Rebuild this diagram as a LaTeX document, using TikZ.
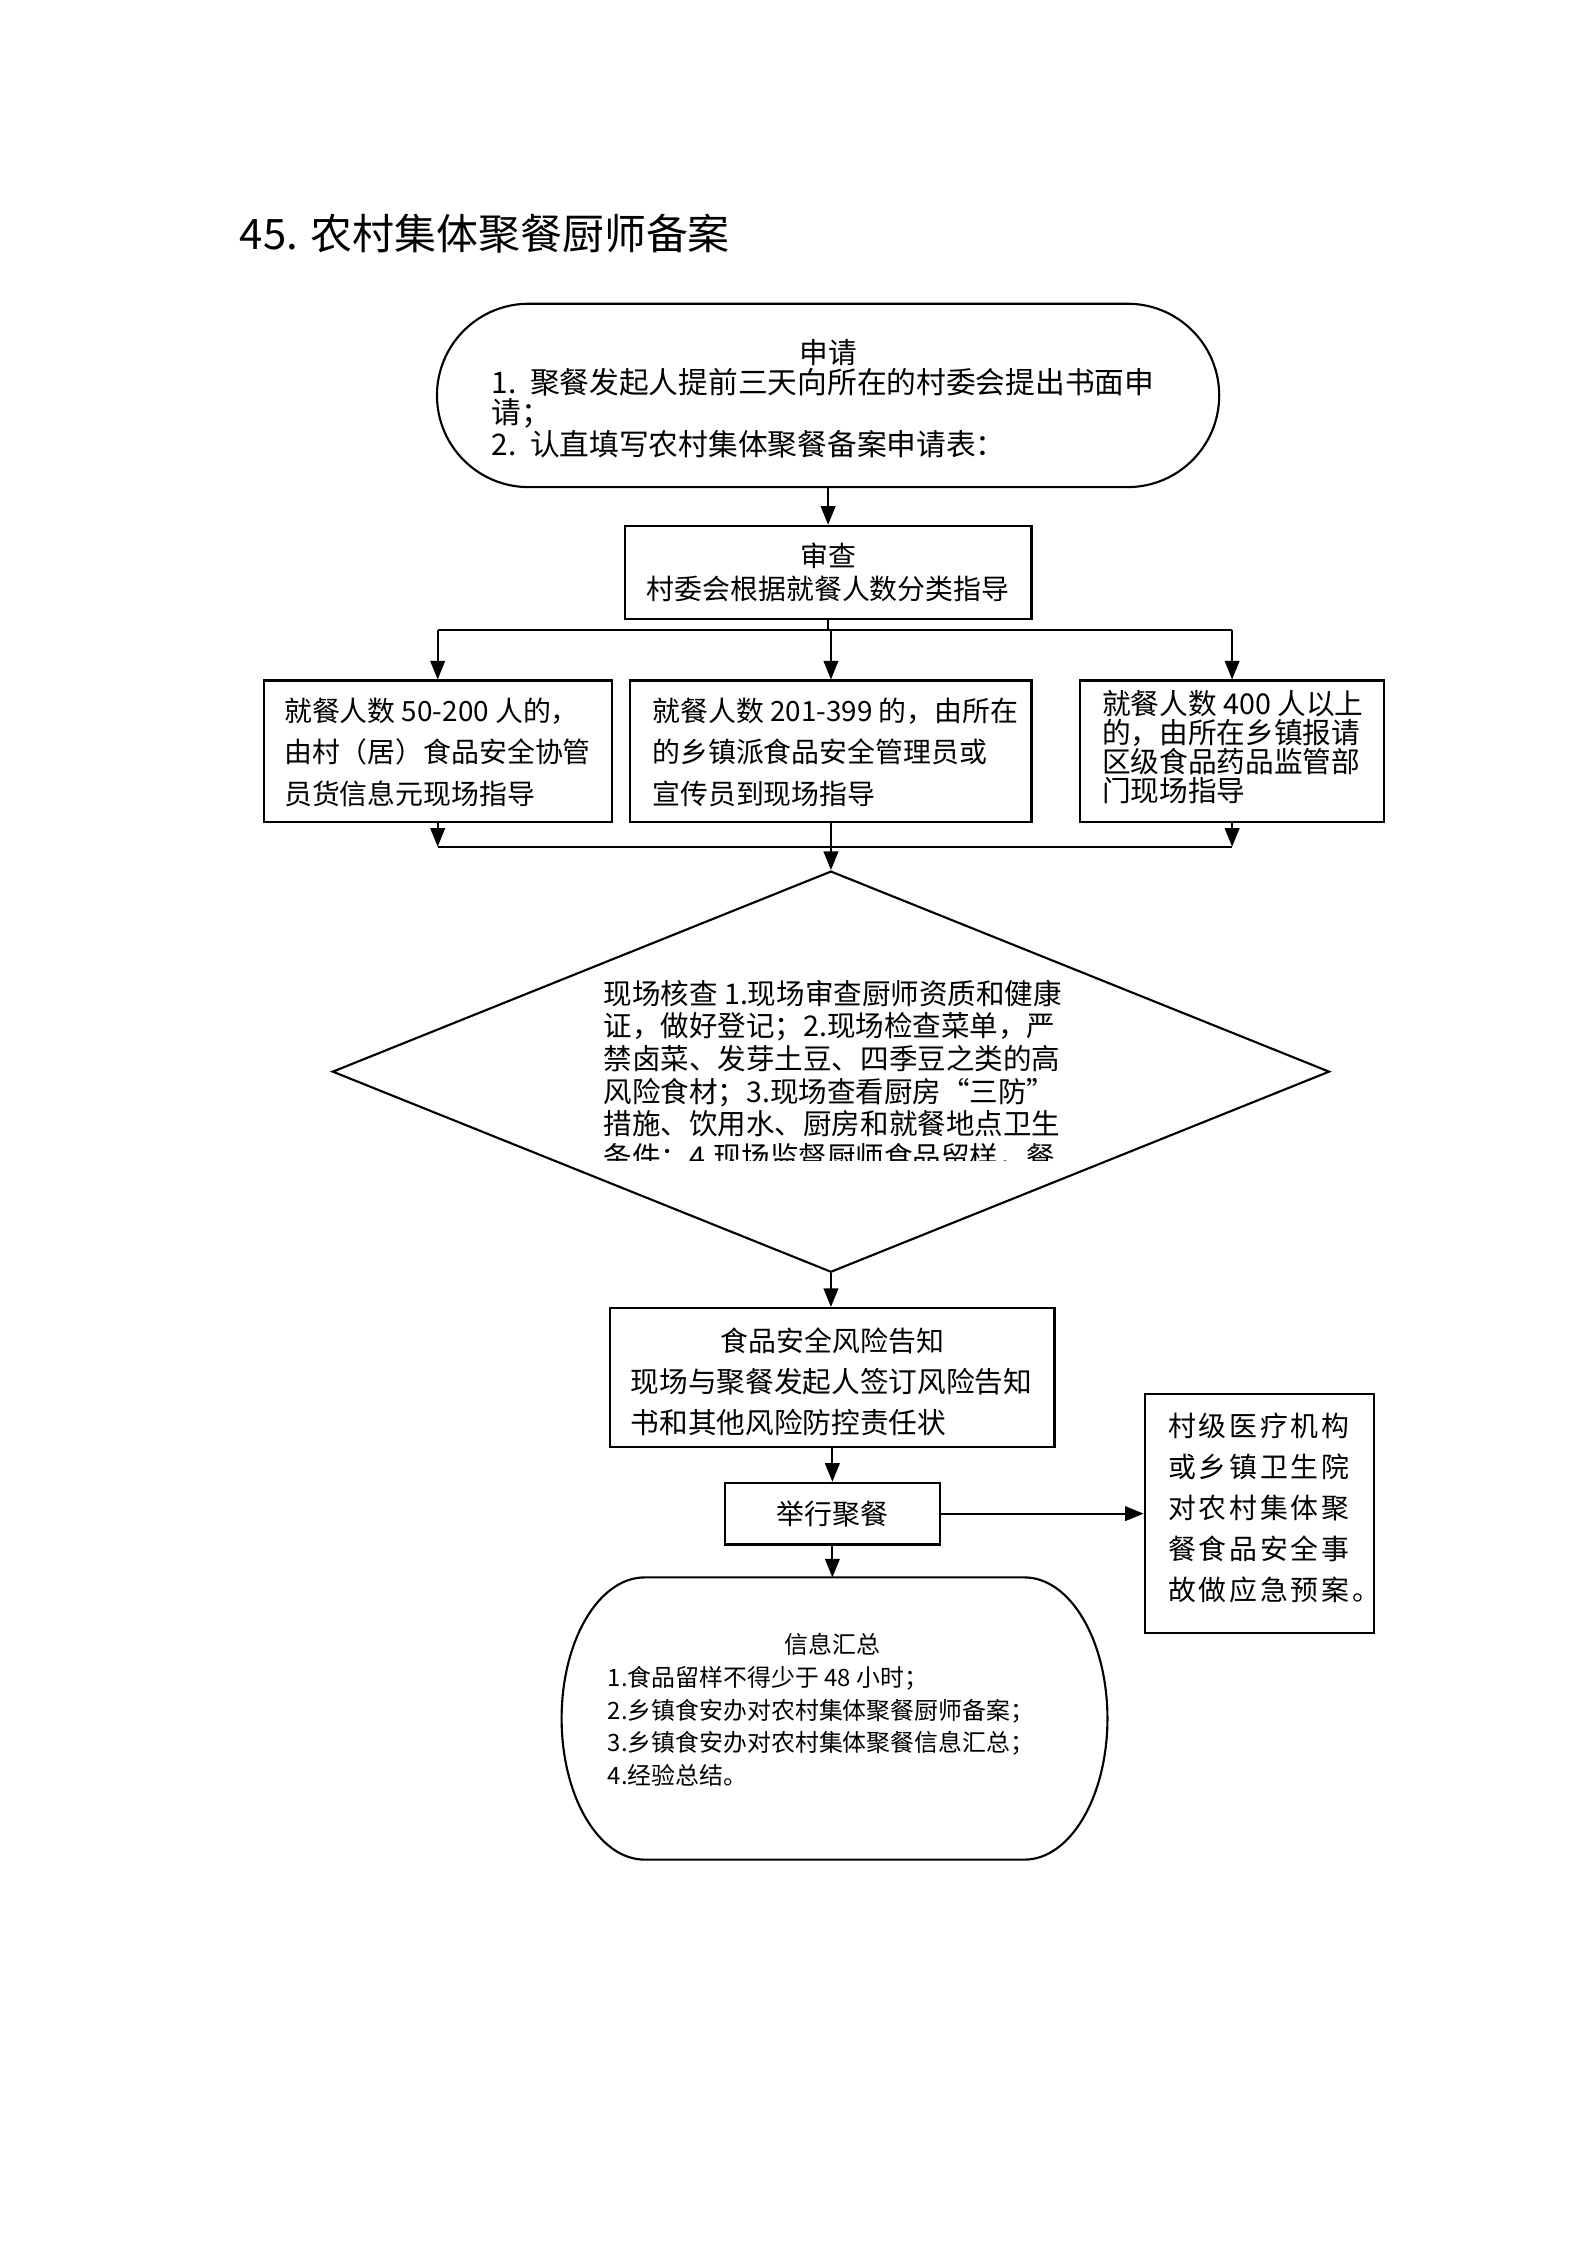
\documentclass[tikz,border=0pt]{standalone}
\usepackage{fontspec}
\setmainfont{Noto Sans CJK SC}
\newfontfamily\spacedcjk[LetterSpace=10]{Noto Sans CJK SC}
\usetikzlibrary{arrows.meta,shapes.geometric,shapes.misc}
\newcommand\fs[2]{\fontsize{#1}{#2}\selectfont}
\newcommand\px[1]{#1*0.5397pt}
\begin{document}
\begin{tikzpicture}[x=0.5397pt,y=-0.5397pt,
  every node/.style={inner sep=0pt},
  shp/.style={draw, line width=0.8pt},
  boxs/.style={shp, rectangle},
  ln/.style={line width=0.75pt},
  arr/.style={line width=0.75pt, -{Triangle[length=7pt,width=5.5pt]}},
  txt/.style={align=left, anchor=west}]
\fill[white] (0,0) rectangle (1108,1567);
\useasboundingbox (0,0) rectangle (1108,1567);

% title
\node[anchor=west, font=\fs{15.8}{19}] (title) at (167,163) {45. 农村集体聚餐厨师备案};

% start terminal
\node[shp, rounded rectangle, minimum width=\px{546}, minimum height=\px{128}] (start) at (578,276) {};
\node[font=\fs{10.8}{12}] (startT) at (578,246) {申请};
\node[txt, font=\fs{11.2}{11.2}] (startB) at (343,288.5) {1.\ \ 聚餐发起人提前三天向所在的村委会提出书面申\\请；\\2.\ \ 认直填写农村集体聚餐备案申请表：};

% review
\node[boxs, minimum width=\px{284}, minimum height=\px{65}, align=center, font=\fs{10.5}{12.4}] (rev) at (578,399.5) {审查\\村委会根据就餐人数分类指导};

% three boxes
\node[boxs, minimum width=\px{243}, minimum height=\px{99}] (ba) at (305.5,524.5) {};
\node[txt, font=\fs{10.5}{15.6}] (baT) at (198,525) {就餐人数 50-200 人的，\\由村（居）食品安全协管\\员货信息元现场指导};

\node[boxs, minimum width=\px{280}, minimum height=\px{99}] (bb) at (580,524.5) {};
\node[txt, font=\fs{10.5}{15.6}] (bbT) at (455,525) {就餐人数 201-399 的，由所在\\的乡镇派食品安全管理员或\\宣传员到现场指导};

\node[boxs, minimum width=\px{212}, minimum height=\px{99}] (bc) at (860,524.5) {};
\node[txt, font=\fs{10.8}{11}] (bcT) at (769,521.5) {就餐人数 400 人以上\\的，由所在乡镇报请\\区级食品药品监管部\\门现场指导};

% diamond
\node[shp, diamond, minimum width=\px{696}, minimum height=\px{280}] (dia) at (580,748) {};
\begin{scope}
\clip (400,670) rectangle (760,810);
\node[txt, font=\fs{10.75}{12.3}] (diaT) at (421,751) {现场核查 1.现场审查厨师资质和健康\\证，做好登记；2.现场检查菜单，严\\禁卤菜、发芽土豆、四季豆之类的高\\风险食材；3.现场查看厨房“三防”\\措施、饮用水、厨房和就餐地点卫生\\条件；4.现场监督厨师食品留样，餐};
\end{scope}

% risk notice
\node[boxs, minimum width=\px{310}, minimum height=\px{97}] (risk) at (581,961.5) {};
\node[font=\fs{10.5}{12}] (riskT) at (581,936) {食品安全风险告知};
\node[txt, font=\fs{10.8}{15.4}] (riskB) at (440,978.5) {现场与聚餐发起人签订风险告知\\书和其他风险防控责任状};

% hold
\node[boxs, minimum width=\px{150}, minimum height=\px{43}, font=\fs{10.5}{12}] (hold) at (581,1056.5) {举行聚餐};

% emergency
\node[boxs, minimum width=\px{160}, minimum height=\px{167}] (emer) at (879,1056.5) {};
\node[txt, font=\spacedcjk\fs{10.5}{15.5}] (emerT) at (815,1052.5) {村级医疗机构\\或乡镇卫生院\\对农村集体聚\\餐食品安全事\\故做应急预案。};

% final terminal
\coordinate (fin) at (581,1101);
\draw[shp] (450,1101) -- (715,1101) arc[start angle=90,end angle=-90,x radius=31.30pt,y radius=53.16pt]
  -- (450,1298) arc[start angle=270,end angle=90,x radius=31.30pt,y radius=53.16pt] -- cycle;
\node[font=\fs{9}{11}] (finT) at (581,1148) {信息汇总};
\node[txt, font=\fs{9}{12.25}] (finB) at (424,1205) {1.食品留样不得少于 48 小时；\\2.乡镇食安办对农村集体聚餐厨师备案；\\3.乡镇食安办对农村集体聚餐信息汇总；\\4.经验总结。};

% connectors
\coordinate (sp) at (578,440);
\coordinate (mg) at (580,591);
\draw[arr] (start) -- (rev);
\draw[ln] (rev.south) -- (sp);
\draw[ln] (ba.north |- sp) -- (bc.north |- sp);
\draw[arr] (ba.north |- sp) -- (ba.north);
\draw[arr] (bb.north |- sp) -- (bb.north);
\draw[arr] (bc.north |- sp) -- (bc.north);
\draw[arr] (ba.south) -- (ba.south |- mg);
\draw[arr] (bc.south) -- (bc.south |- mg);
\draw[ln] (ba.south |- mg) -- (bc.south |- mg);
\draw[arr] (bb.south) -- (dia.north);
\draw[arr] (dia.south) -- (dia.south |- risk.north);
\draw[arr] (risk) -- (hold);
\draw[arr] (hold) -- (emer);
\draw[arr] (hold) -- (fin);
\end{tikzpicture}
\end{document}
